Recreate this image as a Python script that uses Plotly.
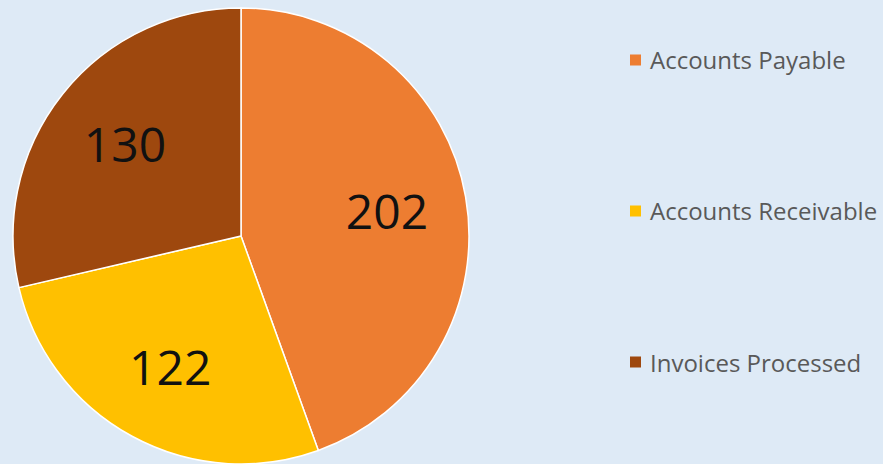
import plotly.graph_objects as go

labels = ["Accounts Payable", "Accounts Receivable", "Invoices Processed"]
values = [202, 122, 130]
colors = ["#ED7D31", "#FFC000", "#9E480E"]

W, H = 883, 464
bg = "#DEEAF6"
dom = dict(x=[12 / W, 470 / W], y=[0, 1 - 8 / H])

fig = go.Figure()
# pie wedges
fig.add_trace(go.Pie(
    labels=labels, values=values, sort=False, direction="clockwise", rotation=0,
    marker=dict(colors=colors, line=dict(color="#FFFFFF", width=1.5)),
    textinfo="none", domain=dom, showlegend=False, hoverinfo="label+value",
))
# value labels (transparent ring so the numbers sit further out, like the reference)
fig.add_trace(go.Pie(
    labels=labels, values=values, sort=False, direction="clockwise", rotation=0, hole=0.3,
    marker=dict(colors=["rgba(0,0,0,0)"] * len(values), line=dict(width=0)),
    textinfo="value", textposition="inside", insidetextorientation="horizontal",
    textfont=dict(family="Open Sans", size=48, color="#111111"),
    domain=dom, showlegend=False, hoverinfo="skip",
))

# legend drawn as shapes + annotations
shapes, annotations = [], []
y0, gap = 60, 151
for i, (lab, col) in enumerate(zip(labels, colors)):
    yc = y0 + i * gap
    shapes.append(dict(type="rect", xref="paper", yref="paper",
                       x0=630 / W, x1=641 / W, y0=1 - (yc + 5.5) / H, y1=1 - (yc - 5.5) / H,
                       fillcolor=col, line=dict(width=0)))
    annotations.append(dict(text=lab, xref="paper", yref="paper", x=648 / W, y=1 - yc / H,
                            xanchor="left", yanchor="middle", showarrow=False,
                            font=dict(family="Open Sans", size=24, color="#595959")))

fig.update_layout(width=W, height=H, margin=dict(l=0, r=0, t=0, b=0),
                  paper_bgcolor=bg, plot_bgcolor=bg,
                  shapes=shapes, annotations=annotations)
fig.write_html("out.html", config={"displayModeBar": False},
               post_script="document.body.style.margin='0';document.body.style.overflow='hidden';document.body.style.background='%s';" % bg)
